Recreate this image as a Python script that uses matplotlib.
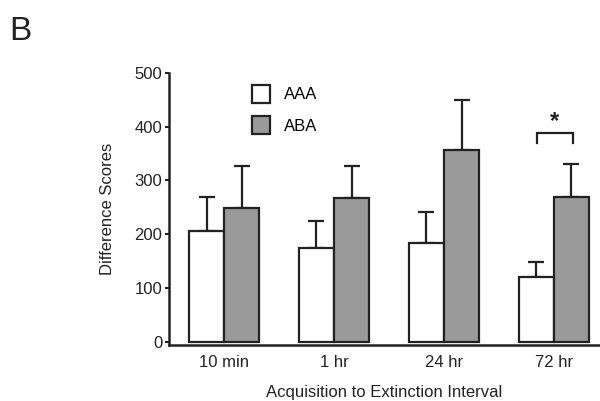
import matplotlib
matplotlib.use('Agg')
import matplotlib.pyplot as plt
import numpy as np

plt.rcParams['font.family'] = ['Liberation Sans', 'DejaVu Sans']

intervals = ['10 min', '1 hr', '24 hr', '72 hr']
aaa_mean = [205, 174, 183, 120]
aaa_err = [64, 50, 59, 29]
aba_mean = [248, 267, 357, 270]
aba_err = [78, 60, 93, 61]

edge = '#222222'
gray = '#9a9a9a'


def main():
    fig = plt.figure(figsize=(6.0, 4.01), dpi=100)
    ax = fig.add_axes([0.282, 0.140, 0.718, 0.678])

    x = np.arange(len(intervals))
    w = 0.32
    err_kw = {'elinewidth': 1.6, 'capthick': 1.6, 'ecolor': edge}
    ax.bar(x - w / 2, aaa_mean, w, color='white', edgecolor=edge,
           linewidth=1.6, label='AAA', zorder=2)
    ax.errorbar(x - w / 2, aaa_mean, yerr=[np.zeros(4), aaa_err], fmt='none',
                capsize=6, zorder=1, **err_kw)
    ax.bar(x + w / 2, aba_mean, w, color=gray, edgecolor=edge,
           linewidth=1.6, label='ABA', zorder=2)
    ax.errorbar(x + w / 2, aba_mean, yerr=[np.zeros(4), aba_err], fmt='none',
                capsize=6, zorder=1, **err_kw)

    # significance bracket on 72 hr
    bx0, bx1 = 3 - 0.15, 3 + 0.17
    ax.plot([bx0, bx0, bx1, bx1], [369, 389, 389, 369], color=edge, lw=1.6,
            solid_joinstyle='miter', clip_on=False)
    ax.text(3 + 0.01, 389, '*', ha='center', va='bottom', fontsize=17,
            fontweight='bold', color=edge)

    fs = 12
    ax.set_xlim(-0.5, 3.42)
    ax.set_ylim(-6, 500)
    ax.set_yticks([0, 100, 200, 300, 400, 500])
    ax.set_xticks(x)
    ax.set_xticklabels(intervals)
    ax.tick_params(axis='x', length=0, pad=7, labelsize=fs, colors='#222222')
    ax.tick_params(axis='y', length=3, width=1.5, pad=2, labelsize=fs,
                   colors='#222222')
    for s in ['top', 'right']:
        ax.spines[s].set_visible(False)
    for s in ['left', 'bottom']:
        ax.spines[s].set_linewidth(1.8)
        ax.spines[s].set_color(edge)

    ax.set_ylabel('Difference Scores', fontsize=fs, labelpad=14, color='#222222')
    ax.set_xlabel('Acquisition to Extinction Interval', fontsize=fs,
                  labelpad=11, color='#222222')

    ax.legend(loc='upper left', bbox_to_anchor=(0.165, 1.0), frameon=False,
              fontsize=fs, handlelength=1.1, handleheight=1.3,
              handletextpad=0.8, labelspacing=0.8, borderaxespad=0.3)

    fig.text(0.015, 0.96, 'B', fontsize=24, va='top', ha='left', color='#222222')

    fig.savefig('out.png', dpi=100)
    plt.close(fig)


if __name__ == '__main__':
    main()
